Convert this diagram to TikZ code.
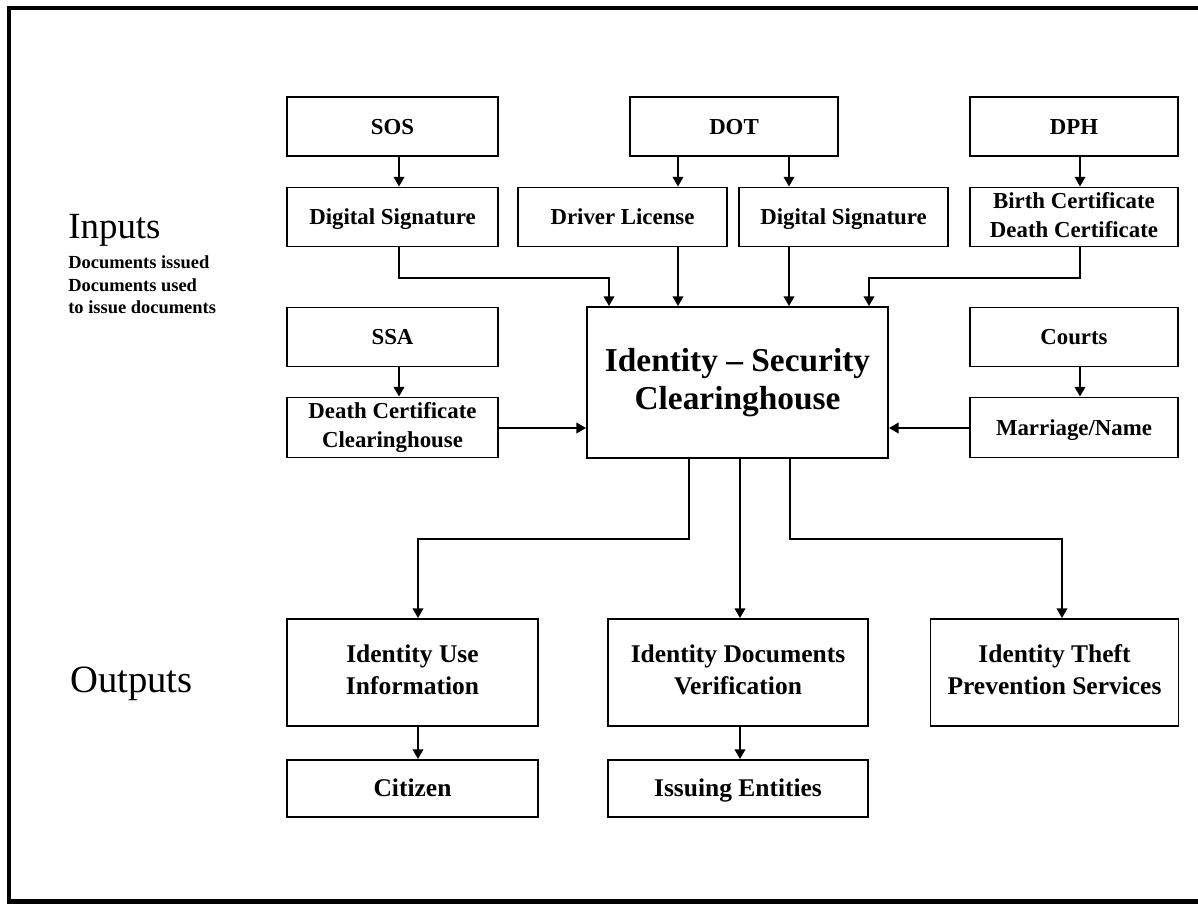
\documentclass[tikz,border=0pt]{standalone}
\usepackage{fontspec}
\setmainfont{Liberation Serif}
\usetikzlibrary{arrows.meta}

\newcommand{\bxstrut}{\rule[-0.22em]{0pt}{1.1em}}

\begin{document}
\begin{tikzpicture}[x=0.02cm,y=-0.02cm,
  box_node/.style={draw,line width=1.1pt,inner sep=0pt,align=center,minimum height=1.18cm,font=\bfseries\fontsize{13}{16.5}\selectfont,
    execute at begin node=\bxstrut,execute at end node=\bxstrut},
  out_node/.style={box_node,font=\bfseries\fontsize{14.5}{18}\selectfont},
  arr/.style={line width=1.1pt,-{Triangle[length=5.5pt,width=6pt]}}]

  \useasboundingbox (0,0) rectangle (1198,904);
  \draw[line width=2.3pt] (9,8) rectangle (1215,901.5);

  \node[anchor=base west,inner sep=0pt,font=\fontsize{21}{25}\selectfont] (inp) at (68,238) {Inputs};
  \node[anchor=north west,inner sep=0pt,align=left,font=\bfseries\fontsize{10.5}{13}\selectfont] (docs) at (68,255) {Documents issued\\Documents used\\to issue documents};
  \node[anchor=base west,inner sep=0pt,font=\fontsize{22}{26}\selectfont] (outp) at (70,692) {Outputs};

  % sources
  \node[box_node,minimum width=4.22cm] (sos) at (392.5,126.5) {SOS};
  \node[box_node,minimum width=4.16cm] (dot) at (734,126.5) {DOT};
  \node[box_node,minimum width=4.16cm] (dph) at (1074,126.5) {DPH};
  \node[box_node,minimum width=4.22cm] (ds1) at (392.5,217) {Digital Signature};
  \node[box_node,minimum width=4.18cm] (dl) at (622.5,217) {Driver License};
  \node[box_node,minimum width=4.18cm] (ds2) at (843.5,217) {Digital Signature};
  \node[box_node,minimum width=4.16cm] (bc) at (1074,217) {Birth Certificate\\Death Certificate};
  \node[box_node,minimum width=4.22cm] (ssa) at (392.5,337) {SSA};
  \node[box_node,minimum width=4.22cm,minimum height=1.2cm] (dc) at (392.5,427.5) {Death Certificate\\Clearinghouse};
  \node[box_node,minimum width=4.16cm] (courts) at (1074,337) {Courts};
  \node[box_node,minimum width=4.16cm,minimum height=1.2cm] (mar) at (1074,427.5) {Marriage/Name};

  \node[box_node,minimum width=6.02cm,minimum height=3.02cm,font=\bfseries\fontsize{19}{21.5}\selectfont] (ctr) at (737.5,382.5) {Identity \textendash{} Security\\Clearinghouse};

  % outputs
  \node[out_node,minimum width=5.02cm,minimum height=2.14cm] (use) at (412.5,672.5) {Identity Use\\Information};
  \node[out_node,minimum width=5.2cm,minimum height=2.14cm] (ver) at (738,672.5) {Identity Documents\\Verification};
  \node[out_node,minimum width=4.96cm,minimum height=2.14cm] (theft) at (1054.5,672.5) {Identity Theft\\Prevention Services};
  \node[out_node,minimum width=5.02cm,minimum height=1.14cm] (cit) at (412.5,788.5) {Citizen};
  \node[out_node,minimum width=5.2cm,minimum height=1.14cm] (iss) at (738,788.5) {Issuing Entities};

  \coordinate (xa) at (399,0);
  \coordinate (xb) at (609,0);
  \coordinate (xc) at (678,0);
  \coordinate (xd) at (789,0);
  \coordinate (xe) at (869,0);
  \coordinate (xf) at (1080,0);
  \coordinate (xg) at (689,0);
  \coordinate (xh) at (740,0);
  \coordinate (xi) at (790,0);
  \coordinate (xj) at (418,0);
  \coordinate (xk) at (1062,0);
  \coordinate (ya) at (0,278);
  \coordinate (yb) at (0,539);
  \coordinate (yc) at (0,428);

  \path[arr]
    (sos.south -| xa) edge (ds1.north -| xa)
    (dot.south -| xc) edge (dl.north -| xc)
    (dot.south -| xd) edge (ds2.north -| xd)
    (dph.south -| xf) edge (bc.north -| xf)
    (ssa.south -| xa) edge (dc.north -| xa)
    (courts.south -| xf) edge (mar.north -| xf)
    (dl.south -| xc) edge (ctr.north -| xc)
    (ds2.south -| xd) edge (ctr.north -| xd)
    (dc.east |- yc) edge (ctr.west |- yc)
    (mar.west |- yc) edge (ctr.east |- yc)
    (ctr.south -| xh) edge (ver.north -| xh)
    (use.south -| xj) edge (cit.north -| xj)
    (ver.south -| xh) edge (iss.north -| xh);

  \draw[arr] (ds1.south -| xa) -- (xa |- ya) -| (ctr.north -| xb);
  \draw[arr] (bc.south -| xf) -- (xf |- ya) -| (ctr.north -| xe);
  \draw[arr] (ctr.south -| xg) -- (xg |- yb) -| (use.north -| xj);
  \draw[arr] (ctr.south -| xi) -- (xi |- yb) -| (theft.north -| xk);
\end{tikzpicture}
\end{document}
